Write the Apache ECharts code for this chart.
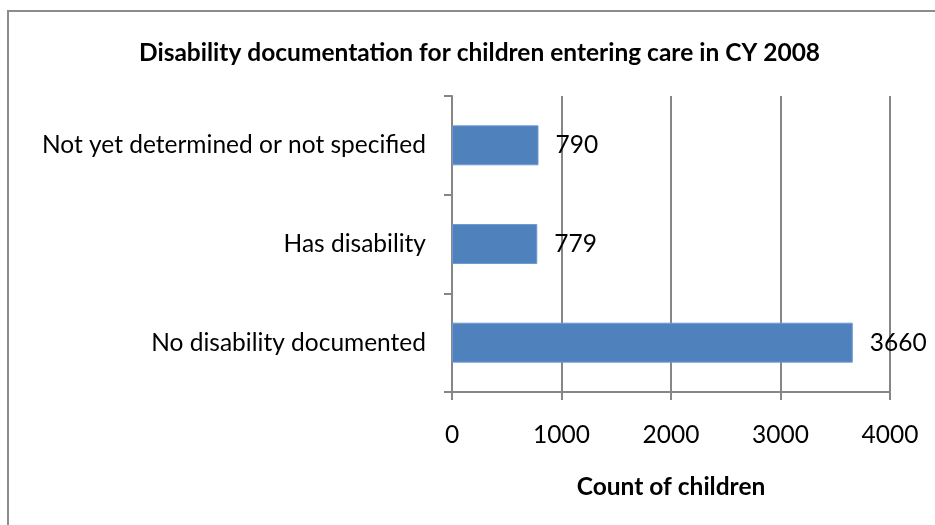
<!DOCTYPE html>
<html>
<head>
<meta charset="utf-8">
<script src="https://cdn.jsdelivr.net/npm/echarts@6/dist/echarts.min.js"></script>
<style>html,body{margin:0;padding:0;background:#fff;}#c{width:935px;height:525px;}</style>
</head>
<body>
<div id="c"></div>
<script>
const categories = ["No disability documented", "Has disability", "Not yet determined or not specified"];
const counts = [3660, 779, 790];
const xTicks = [0, 1000, 2000, 3000, 4000];

const FONT = "Lato";
const FS = 24.5;
const chart = echarts.init(document.getElementById('c'));
chart.setOption({
  backgroundColor: '#ffffff',
  animation: false,
  title: {
    text: 'Disability documentation for children entering care in CY 2008',
    left: 134,
    top: 36,
    textStyle: { fontFamily: FONT, fontSize: 24.5, fontWeight: 'bold', color: '#000' }
  },
  graphic: [{
    type: 'rect',
    shape: { x: 8, y: 11, width: 1000, height: 600 },
    style: { fill: 'none', stroke: '#8c8c8c', lineWidth: 2 },
    silent: true
  }],
  grid: { left: 452, right: 45, top: 96, bottom: 133, containLabel: false },
  xAxis: {
    type: 'value',
    min: xTicks[0],
    max: xTicks[xTicks.length - 1],
    interval: 1000,
    name: 'Count of children',
    nameLocation: 'middle',
    nameGap: 83,
    nameTextStyle: { fontFamily: FONT, fontSize: FS, fontWeight: 'bold', color: '#000' },
    axisLine: { show: true, lineStyle: { color: '#868686', width: 2 } },
    axisTick: { show: true, length: 8, lineStyle: { color: '#868686', width: 2 } },
    axisLabel: { fontFamily: FONT, fontSize: FS, color: '#000', margin: 31, formatter: v => String(v) },
    splitLine: { show: true, lineStyle: { color: '#868686', width: 2 } }
  },
  yAxis: {
    type: 'category',
    data: categories,
    axisLine: { show: true, lineStyle: { color: '#868686', width: 2 } },
    axisTick: { show: true, length: 8, lineStyle: { color: '#868686', width: 2 } },
    axisLabel: { fontFamily: FONT, fontSize: FS, color: '#000', margin: 26 },
    splitLine: { show: false }
  },
  series: [{
    type: 'bar',
    data: counts,
    barWidth: '40.5%',
    itemStyle: { color: '#4F81BD', borderColor: '#6f9ad0', borderWidth: 1 },
    label: {
      show: true,
      position: 'right',
      distance: 17,
      fontFamily: FONT,
      fontSize: FS,
      color: '#000',
      formatter: p => String(p.value)
    }
  }]
});
</script>
</body>
</html>
